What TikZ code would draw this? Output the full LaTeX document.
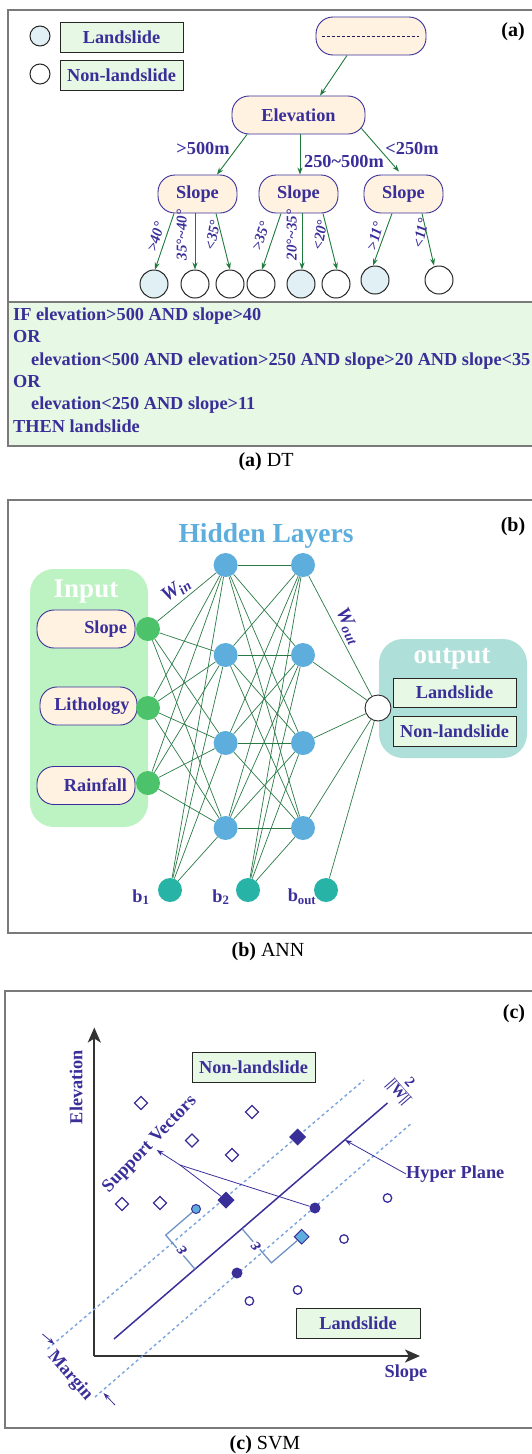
\documentclass[tikz,border=0pt]{standalone}
\usepackage{fontspec}
\setmainfont{Liberation Serif}
\usetikzlibrary{arrows.meta,shapes.geometric,calc}

\definecolor{ink}{HTML}{3A2F99}
\definecolor{peach}{HTML}{FFF2E1}
\definecolor{mint}{HTML}{E7F8E5}
\definecolor{leafblue}{HTML}{E0F0F5}
\definecolor{arrowgreen}{HTML}{1F7A3D}
\definecolor{framegray}{HTML}{7A7A7A}
\definecolor{hidblue}{HTML}{5DAEDC}
\definecolor{ingreen}{HTML}{4CC36A}
\definecolor{biasteal}{HTML}{27B3A6}
\definecolor{inpanel}{HTML}{BDF2C3}
\definecolor{outpanel}{HTML}{AEE0D9}
\definecolor{wiregreen}{HTML}{2A7A45}
\definecolor{marginblue}{HTML}{7BA3DD}
\definecolor{axisgray}{HTML}{333333}

\tikzset{
  pill/.style={draw=ink, line width=0.9pt, fill=peach, rounded corners=17pt,
    minimum height=38pt, inner sep=0pt, text=ink},
  leaf/.style={circle, draw=black!85, line width=1pt, minimum size=28pt, inner sep=0pt},
  tarrow/.style={draw=arrowgreen, line width=0.9pt, -{Stealth[length=7pt,width=5pt]}},
  lbl/.style={text=ink, inner sep=0pt},
  anglbl/.style={text=ink, inner sep=0pt, font=\bfseries\itshape\fontsize{15}{15}\selectfont},
  tag/.style={draw=black!85, fill=mint, line width=0.9pt, minimum width=123pt,
    minimum height=30pt, inner sep=0pt, text=ink},
  frame/.style={draw=framegray, line width=1.2pt},
  rule/.style={text=ink, inner sep=0pt, anchor=base west},
  caption/.style={inner sep=0pt, font=\mdseries\fontsize{20}{20}\selectfont},
  panellabel/.style={inner sep=0pt, font=\bfseries\fontsize{20}{20}\selectfont},
  neuron/.style={circle, minimum size=24pt, inner sep=0pt},
  wire/.style={draw=wiregreen, line width=0.7pt},
  inbox/.style={pill, minimum width=98pt, text width=82pt, align=right},
  axis/.style={draw=axisgray, line width=2.2pt, -{Stealth[length=15pt,width=13pt,inset=4pt]}},
  margin line/.style={draw=marginblue, line width=1.4pt, dash pattern=on 3pt off 3pt},
  bracket/.style={draw=marginblue!90!black, line width=1.3pt},
  thinarrow/.style={draw=ink, line width=0.8pt, -{Stealth[length=7pt,width=5pt]}},
  hollowdia/.style={diamond, draw=ink, fill=white, line width=1.3pt, minimum size=13.5pt, inner sep=0pt},
  soliddia/.style={diamond, draw=ink, fill=ink, line width=1pt, minimum size=16pt, inner sep=0pt},
  soliddot/.style={circle, fill=ink, minimum size=11pt, inner sep=0pt},
  hollowdot/.style={circle, draw=ink, fill=white, line width=1.3pt, minimum size=8.5pt, inner sep=0pt},
  epslbl/.style={text=ink, inner sep=0pt, rotate=131, font=\bfseries\itshape\fontsize{19}{19}\selectfont},
}

\begin{document}
\begin{tikzpicture}[x=1pt, y=-1pt, font=\bfseries\fontsize{18.3}{20}\selectfont]
\useasboundingbox (0,0) rectangle (532,1454);
\clip (0,0) rectangle (532,1454);

% ================= (a) decision tree =================
\draw[frame] (8,10) rectangle (560,302);
\draw[frame, fill=mint] (8,302) rectangle (560,446);
\node[panellabel] (tagA) at (513,32) {(a)};

% legend
\node[circle, draw=black!85, line width=1pt, fill=leafblue, minimum size=20pt, inner sep=0pt] (legA) at (40,36) {};
\node[tag] (legAt) at (121.5,37) {Landslide};
\node[circle, draw=black!85, line width=1pt, fill=white, minimum size=20pt, inner sep=0pt] (legB) at (40,74) {};
\node[tag] (legBt) at (121.5,75) {Non-landslide};

% tree nodes
\node[pill, minimum width=110pt] (root) at (371,36) {};
\draw[densely dashed, line width=0.6pt, ink!60!black] ([xshift=6pt]root.west) -- ([xshift=-7pt]root.east);
\node[pill, minimum width=133pt] (elev) at (298.5,115) {Elevation};
\node[pill, minimum width=79pt] (s1) at (197.5,194) {Slope};
\node[pill, minimum width=79pt] (s2) at (298.5,194) {Slope};
\node[pill, minimum width=79pt] (s3) at (403.5,194) {Slope};

\node[leaf, fill=leafblue] (l1) at (154,284) {};
\node[leaf] (l2) at (195,284) {};
\node[leaf] (l3) at (230,284) {};
\node[leaf] (l4) at (261,284) {};
\node[leaf, fill=leafblue] (l5) at (301,284) {};
\node[leaf] (l6) at (336,284) {};
\node[leaf, fill=leafblue] (l7) at (375,280) {};
\node[leaf] (l8) at (439,280) {};

\draw[tarrow] ([xshift=-24pt]root.south) -- ([xshift=21.5pt]elev.north);
\draw[tarrow] ([xshift=-51.5pt]elev.south) -- ([xshift=19.5pt]s1.north);
\draw[tarrow] ([xshift=1.5pt]elev.south) -- ([xshift=1.5pt]s2.north);
\draw[tarrow] ([xshift=-4pt,yshift=6pt]elev.south east) -- ([xshift=-4.5pt,yshift=3pt]s3.north);

\node[lbl] (e1) at (203,149) {>500m};
\node[lbl] (e2) at (344,162) {250\textasciitilde 500m};
\node[lbl] (e3) at (412,149) {<250m};

\draw[tarrow] ([xshift=-23.5pt]s1.south) -- ([xshift=1pt]l1.north);
\draw[tarrow] ([xshift=-2.5pt]s1.south) -- (l2.north);
\draw[tarrow] ([xshift=18.5pt]s1.south) -- (l3.north);
\draw[tarrow] ([xshift=-17.5pt]s2.south) -- ([xshift=1pt]l4.north);
\draw[tarrow] ([xshift=3.5pt]s2.south) -- ([xshift=1pt]l5.north);
\draw[tarrow] ([xshift=24.5pt]s2.south) -- ([xshift=1pt]l6.north);
\draw[tarrow] ([xshift=-11.5pt]s3.south) -- ([xshift=-2pt]l7.north);
\draw[tarrow] ([xshift=18.5pt]s3.south) -- ([xshift=-5pt]l8.north);

\node[anglbl, rotate=74] (a1) at (155.7,237) {>40°};
\node[anglbl, rotate=90] (a2) at (181.7,235) {35°\textasciitilde 40°};
\node[anglbl, rotate=80] (a3) at (212.7,235) {<35°};
\node[anglbl, rotate=72] (a4) at (260.7,236) {>35°};
\node[anglbl, rotate=90] (a5) at (291.7,235) {20°\textasciitilde 35°};
\node[anglbl, rotate=80] (a6) at (320,235) {<20°};
\node[anglbl, rotate=75] (a7) at (375,236) {>11°};
\node[anglbl, rotate=79] (a8) at (420.7,233) {<11°};

% rule text
\node[rule] (r1) at (13,320) {IF elevation>500 AND slope>40};
\node[rule] (r2) at (13,342.5) {OR};
\node[rule] (r3) at (31,365) {elevation<500 AND elevation>250 AND slope>20 AND slope<35};
\node[rule] (r4) at (13,387) {OR};
\node[rule] (r5) at (31,409) {elevation<250 AND slope>11};
\node[rule] (r6) at (13,432) {THEN landslide};

\node[caption] (capA) at (266,462) {\textbf{(a)} DT};

% ================= (b) neural network =================
\draw[frame] (8,500) rectangle (560,933);
\node[panellabel] (tagB) at (513,527) {(b)};
\node[inner sep=0pt, text=hidblue, font=\bfseries\fontsize{27.5}{28}\selectfont] (hid) at (266,536) {Hidden Layers};

\fill[inpanel, rounded corners=24pt] (30,569) rectangle (148,827);
\node[inner sep=0pt, text=white, font=\bfseries\fontsize{27}{28}\selectfont] (inlbl) at (86,592) {Input};
\fill[outpanel, rounded corners=24pt] (379,639) rectangle (527,758);
\node[inner sep=0pt, text=white, font=\bfseries\fontsize{27}{28}\selectfont] (outlbl) at (452,659) {output};

\node[inbox] (xslope) at (86,629) {Slope};
\node[inbox, minimum width=97pt] (xlith) at (88.5,706) {Lithology};
\node[inbox] (xrain) at (86,785.5) {Rainfall};

\node[neuron, fill=ingreen] (in1) at (148,629) {};
\node[neuron, fill=ingreen] (in2) at (148,708) {};
\node[neuron, fill=ingreen] (in3) at (148,783) {};

\foreach \r [count=\k] in {565,655,743,828} {
  \node[neuron, fill=hidblue] (ha\k) at (225.6,\r) {};
  \node[neuron, fill=hidblue] (hb\k) at (303,\r) {};
}
\node[neuron, fill=biasteal] (b1) at (170,890) {};
\node[neuron, fill=biasteal] (b2) at (248,890) {};
\node[neuron, fill=biasteal] (bo) at (326,890) {};
\node[circle, draw=black!85, fill=white, line width=0.9pt, minimum size=26pt, inner sep=0pt] (out) at (378,708) {};

\foreach \i in {1,2,3} \foreach \j in {1,...,4} \draw[wire] (in\i) -- (ha\j);
\foreach \i in {1,...,4} \foreach \j in {1,...,4} \draw[wire] (ha\i) -- (hb\j);
\foreach \j in {1,...,4} \draw[wire] (b1) -- (ha\j);
\foreach \j in {1,...,4} \draw[wire] (b2) -- (hb\j);
\foreach \j in {1,...,4} \draw[wire] (hb\j) -- (out);
\draw[wire] (bo) -- (out);

\node[tag, minimum height=29pt] (oland) at (454.5,692.5) {Landslide};
\node[tag] (onon) at (454.5,731) {Non-landslide};

\node[lbl, rotate=35, font=\bfseries\itshape\fontsize{20}{20}\selectfont] (win) at (176,590) {W\textsubscript{in}};
\node[lbl, rotate=-64, font=\bfseries\itshape\fontsize{20}{20}\selectfont] (wout) at (348.5,626) {W\textsubscript{out}};
\node[lbl] (lb1) at (141,897) {b\textsubscript{1}};
\node[lbl] (lb2) at (221,897) {b\textsubscript{2}};
\node[lbl] (lbo) at (302,897) {b\textsubscript{out}};

\node[caption] (capB) at (268,952) {\textbf{(b)} ANN};

% ================= (c) support vector machine =================
\draw[frame] (5,991) rectangle (560,1428);
\node[panellabel] (tagC) at (514,1014) {(c)};

\coordinate (org) at (94.3,1356);
\coordinate (ytip) at (94.3,1027.5);
\coordinate (xtip) at (420,1356);
\draw[axis] (org) -- (ytip);
\draw[axis] (org) -- (xtip);
\node[lbl, rotate=90] (ylab) at (76,1087) {Elevation};
\node[lbl] (xlab) at (406,1373) {Slope};

\node[tag] (cnon) at (253.5,1067) {Non-landslide};
\node[tag, minimum width=124pt] (cland) at (358,1323) {Landslide};

% separating line and margins
\coordinate (hpA) at (114,1339);
\coordinate (hpB) at (387.5,1103);
\coordinate (upA) at (47.5,1349);
\coordinate (upB) at (364,1080);
\coordinate (loA) at (95,1397);
\coordinate (loB) at (410.6,1124);
\draw[margin line] (upA) -- (upB);
\draw[margin line] (loA) -- (loB);
\draw[draw=ink, line width=1.5pt] (hpA) -- (hpB);

% slack brackets
\coordinate (ebA) at (165.7,1235.1);
\coordinate (ebF) at (195.0,1269.1);
\coordinate (ebB) at (271.4,1262.8);
\coordinate (ebG) at (242.1,1228.8);
\node[circle, draw=ink, fill=hidblue, line width=1pt, minimum size=9pt, inner sep=0pt] (pc) at (196,1209) {};
\node[diamond, draw=ink, fill=hidblue, line width=1pt, minimum size=15pt, inner sep=0pt] (pd) at (301.7,1236.7) {};
\draw[bracket] (pc) -- (ebA) -- (ebF);
\draw[bracket] (pd) -- (ebB) -- (ebG);
\node[epslbl, fill=white, inner sep=1pt] (eps1) at (182,1250) {ε};
\node[epslbl, fill=white, inner sep=1pt] (eps2) at (256,1246) {ε};

% samples
\node[hollowdia] (n1) at (141,1103) {};
\node[hollowdia] (n2) at (252,1112) {};
\node[hollowdia] (n3) at (192,1140.5) {};
\node[hollowdia] (n4) at (232,1155) {};
\node[hollowdia] (n5) at (122,1204) {};
\node[hollowdia] (n6) at (160,1203) {};
\node[soliddia] (sva) at (297.6,1137) {};
\node[soliddia] (sv1) at (226,1200) {};
\node[soliddot] (sv2) at (315,1208) {};
\node[soliddot] (svb) at (237,1273) {};
\node[hollowdot] (p1) at (387.5,1198) {};
\node[hollowdot] (p2) at (344,1239) {};
\node[hollowdot] (p3) at (297.6,1290) {};
\node[hollowdot] (p4) at (249.4,1301) {};

% annotations
\node[lbl, rotate=46] (svlab) at (150,1144.5) {Support Vectors};
\coordinate (svj) at (180,1165);
\coordinate (svtip) at (156.7,1150);
\draw[draw=ink, line width=0.8pt] (svj) -- (sv1);
\draw[draw=ink, line width=0.8pt] (svj) -- (sv2);
\draw[thinarrow] (svj) -- (svtip);

\node[lbl, anchor=west] (hplab) at (406,1174) {Hyper Plane};
\coordinate (hpt) at (345,1140);
\draw[thinarrow] (hplab.west) -- (hpt);

\node[lbl, rotate=-49, font=\bfseries\fontsize{15}{15}\selectfont] (wlab) at (403,1088)
  {\renewcommand\arraystretch{0.85}\begin{tabular}{@{}c@{}}2\\\hline ||W||\end{tabular}};

\node[lbl, rotate=-49] (mlab) at (70,1376) {Margin};
\coordinate (m1s) at (42.4,1334);
\coordinate (m1e) at (54.3,1344);
\coordinate (m2s) at (115,1405);
\coordinate (m2e) at (103.5,1393);
\draw[thinarrow] (m1s) -- (m1e);
\draw[thinarrow] (m2s) -- (m2e);

\node[caption] (capC) at (265,1445) {\textbf{(c)} SVM};
\end{tikzpicture}
\end{document}
